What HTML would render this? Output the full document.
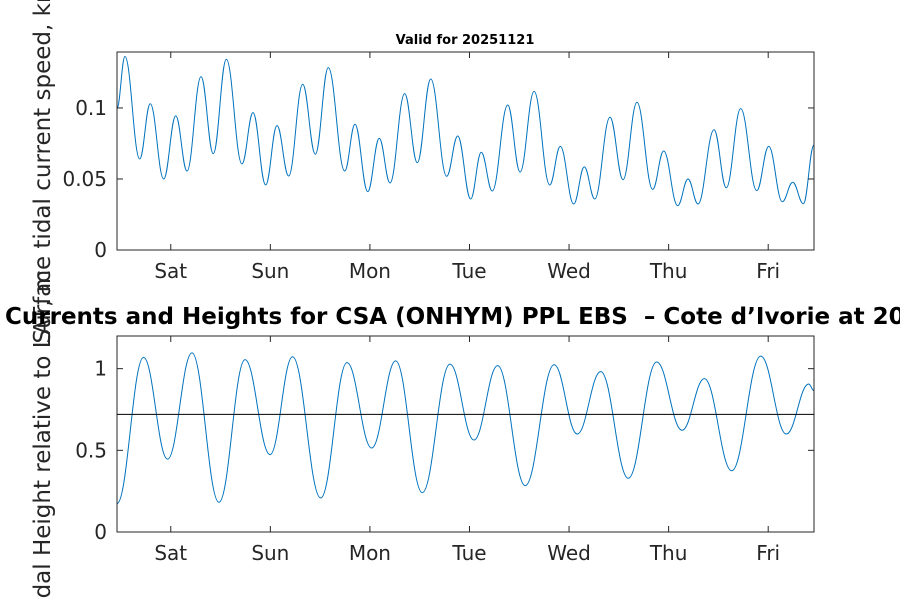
<!DOCTYPE html>
<html><head><meta charset="utf-8"><style>
body{margin:0;background:#fff}
svg{display:block;font-family:"DejaVu Sans","Liberation Sans",sans-serif}
</style></head><body>
<svg id="chart" width="900" height="600" viewBox="0 0 900 600">
<rect width="900" height="600" fill="#fff"/>
</svg>
<script>
const dayLabels=["Sat","Sun","Mon","Tue","Wed","Thu","Fri"];
const dayTicks=[0.54,1.54,2.54,3.54,4.54,5.54,6.54];
const speedTimes=[0,0.080,0.228,0.334,0.469,0.590,0.703,0.844,0.967,1.098,1.255,1.366,1.493,1.607,1.724,1.865,1.992,2.122,2.287,2.390,2.518,2.634,2.742,2.889,3.016,3.151,3.311,3.422,3.552,3.658,3.769,3.924,4.048,4.189,4.346,4.452,4.587,4.693,4.798,4.951,5.082,5.222,5.380,5.490,5.631,5.735,5.835,5.996,6.119,6.264,6.425,6.545,6.682,6.786,6.893,7.0];
const speedValues=[0.0998,0.1362,0.0641,0.1030,0.0500,0.0944,0.0556,0.1221,0.0678,0.1343,0.0606,0.0967,0.0458,0.0876,0.0521,0.1167,0.0674,0.1284,0.0556,0.0885,0.0411,0.0786,0.0472,0.1101,0.0615,0.1204,0.0519,0.0803,0.0359,0.0688,0.0415,0.1021,0.0549,0.1117,0.0458,0.0730,0.0324,0.0585,0.0359,0.0935,0.0495,0.1040,0.0427,0.0697,0.0312,0.0500,0.0324,0.0847,0.0438,0.0995,0.0418,0.0730,0.0340,0.0477,0.0326,0.0739];
const speedTickValues=[0,0.05,0.1];
const speedTickLabels=["0","0.05","0.1"];
const heightTimes=[0,0.267,0.508,0.753,1.024,1.286,1.537,1.763,2.046,2.310,2.558,2.799,3.066,3.344,3.585,3.823,4.100,4.390,4.622,4.858,5.135,5.420,5.675,5.899,6.174,6.465,6.722,6.947,7.0];
const heightValues=[0.174,1.069,0.446,1.097,0.182,1.055,0.474,1.073,0.208,1.037,0.514,1.048,0.241,1.028,0.563,1.019,0.284,1.024,0.600,0.982,0.329,1.041,0.623,0.939,0.375,1.077,0.600,0.906,0.865];
const heightTickValues=[0,0.5,1];
const heightTickLabels=["0","0.5","1"];
const latLevel=0.72;

const NS="http://www.w3.org/2000/svg";
const svg=document.getElementById('chart');
function mk(tag,attrs,parent){const e=document.createElementNS(NS,tag);for(const k in attrs)e.setAttribute(k,attrs[k]);(parent||svg).appendChild(e);return e;}
const X0=117,X1=814;
function xScale(t){return X0+(X1-X0)*t/7;}

function panel(top,bottom,ymax,times,vals,tv,tl,prefix){
  const y=v=>bottom-(bottom-top)*v/ymax;
  let d="M"+xScale(times[0])+","+y(vals[0]);
  for(let i=1;i<times.length;i++){
    const xa=xScale(times[i-1]),xb=xScale(times[i]),dx=(xb-xa)*0.4;
    d+=" C"+(xa+dx)+","+y(vals[i-1])+" "+(xb-dx)+","+y(vals[i])+" "+xb+","+y(vals[i]);
  }
  const p=mk('path',{d:d,fill:"none",stroke:"#0072bd","stroke-width":1});
  
  
  const r=mk('rect',{x:X0,y:top,width:X1-X0,height:bottom-top,fill:"none",stroke:"#262626","stroke-width":1});
  
  
  dayTicks.forEach((t,i)=>{
    const x=xScale(t);
    mk('line',{x1:x,x2:x,y1:bottom,y2:bottom-6,stroke:"#262626"});
    mk('line',{x1:x,x2:x,y1:top,y2:top+6,stroke:"#262626"});
    const tx=mk('text',{x:x,y:bottom+28,"text-anchor":"middle","font-size":20,fill:"#262626"});
    tx.textContent=dayLabels[i];
    
    
  });
  tv.forEach((v,i)=>{
    const yy=y(v);
    mk('line',{x1:X0,x2:X0+6,y1:yy,y2:yy,stroke:"#262626"});
    mk('line',{x1:X1,x2:X1-6,y1:yy,y2:yy,stroke:"#262626"});
    const tx=mk('text',{x:107,y:yy+7,"text-anchor":"end","font-size":20,fill:"#262626"});
    tx.textContent=tl[i];
    
    
  });
  return y;
}
panel(52,250,0.1394,speedTimes,speedValues,speedTickValues,speedTickLabels,'speed');
const hy=panel(336,532,1.2,heightTimes,heightValues,heightTickValues,heightTickLabels,'height');
const ln=mk('line',{x1:X0,x2:X1,y1:hy(latLevel),y2:hy(latLevel),stroke:"#000","stroke-width":1});


</script>
<script>
(function(){
const NS="http://www.w3.org/2000/svg";const svg=document.getElementById('chart');
function t(attrs,txt,name){const e=document.createElementNS(NS,'text');for(const k in attrs)e.setAttribute(k,attrs[k]);e.textContent=txt;svg.appendChild(e);


return e;}
t({x:465,y:44,"text-anchor":"middle","font-size":13,"font-weight":"bold",fill:"#000"},"Valid for 20251121","top-title");
t({x:0,y:0,"text-anchor":"middle","font-size":23,fill:"#262626",transform:"translate(50,166) rotate(-90)"},"Surface tidal current speed, kn","speed-y-axis-title");
t({x:0,y:0,"text-anchor":"middle","font-size":23,fill:"#262626",transform:"translate(50,444) rotate(-90)"},"Tidal Height relative to LAT, m","height-y-axis-title");
t({x:5,y:324,"font-size":23,"font-weight":"bold",fill:"#000","xml:space":"preserve",style:"white-space:pre"},"Currents and Heights for CSA (ONHYM) PPL EBS  \u2013 Cote d\u2019Ivorie at 20251121","bottom-title");
})();
</script>
</body></html>
